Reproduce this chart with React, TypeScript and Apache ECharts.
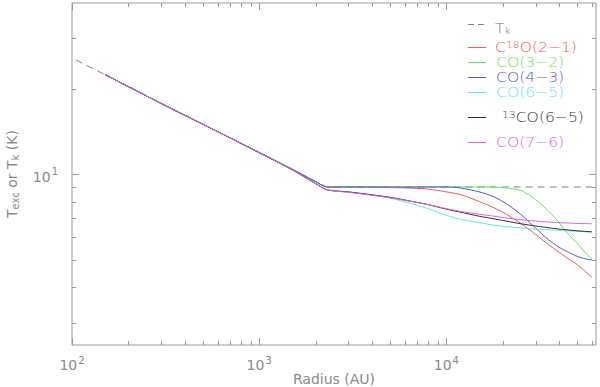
import React, { useEffect, useRef } from 'react';
import * as echarts from 'echarts';

// Radii (AU) shared by the model curves
const RADII = [150, 300, 600, 1000, 1500, 2000, 2300, 3000, 4000, 5000, 6000, 8000, 10000, 12000, 15000, 18000, 21000, 25000, 30000, 35000, 40000, 45000, 50000, 55000, 60000];

// Kinetic temperature (dashed)
const TK_RADII = [105, 2300, 60000];
const TK_VALUES = [25.2, 9.0, 9.0];

// Excitation temperatures (K)
const C18O_21 = [22.4, 17.7, 14.1, 11.9, 10.4, 9.4, 9.0, 9.0, 8.98, 8.96, 8.93, 8.85, 8.65, 8.45, 8.0, 7.6, 7.2, 6.7, 6.12, 5.65, 5.3, 5.02, 4.8, 4.55, 4.33];
const CO_32 = [22.4, 17.7, 14.1, 11.9, 10.4, 9.4, 9.0, 9.0, 9.0, 9.0, 9.0, 9.0, 9.0, 9.0, 9.0, 8.98, 8.93, 8.75, 8.12, 7.42, 6.75, 6.12, 5.7, 5.3, 5.02];
const CO_43 = [22.4, 17.7, 14.1, 11.9, 10.4, 9.4, 9.0, 9.0, 9.0, 9.0, 9.0, 9.0, 9.0, 8.92, 8.65, 8.3, 7.85, 7.2, 6.45, 5.88, 5.52, 5.3, 5.13, 5.03, 4.98];
const CO_65 = [22.4, 17.7, 14.1, 11.9, 10.35, 9.25, 8.8, 8.63, 8.42, 8.22, 7.98, 7.55, 7.15, 6.92, 6.74, 6.6, 6.52, 6.46, 6.4, 6.36, 6.33, 6.3, 6.28, 6.26, 6.24];
const CO13_65 = [22.4, 17.7, 14.1, 11.9, 10.35, 9.25, 8.8, 8.65, 8.45, 8.28, 8.1, 7.8, 7.52, 7.33, 7.1, 6.95, 6.82, 6.68, 6.56, 6.47, 6.4, 6.35, 6.31, 6.28, 6.26];
const CO_76 = [22.4, 17.7, 14.1, 11.9, 10.35, 9.25, 8.8, 8.62, 8.42, 8.25, 8.08, 7.8, 7.55, 7.38, 7.22, 7.1, 7.0, 6.9, 6.83, 6.78, 6.74, 6.72, 6.7, 6.69, 6.68];

// Tick values
const X_TICKS = [100, 200, 300, 400, 500, 600, 700, 800, 900, 1000, 2000, 3000, 4000, 5000, 6000, 7000, 8000, 9000, 10000, 20000, 30000, 40000, 50000, 60000];
const Y_TICKS = [3, 4, 5, 6, 7, 8, 9, 10, 20, 30];

const X_MIN = 100;
const X_MAX = 63000;
const Y_MIN = 2.5;
const Y_MAX = 40;

const LEGEND_LABELS = ['T{sub|k}', 'C{sup|18}O(2\u22121)', 'CO(3\u22122)', 'CO(4\u22123)', 'CO(6\u22125)', '{sup|13}CO(6\u22125)', 'CO(7\u22126)'];

const FRAME = '#9a9a9a';
const TEXT = '#8a8a8a';
const COLORS = {
  tk: '#808080',
  red: '#e85a5a',
  green: '#5fe25f',
  blue: '#5656d2',
  cyan: '#5ee6e6',
  black: '#2e2e2e',
  magenta: '#e25ee2',
};

const FONT = 'DejaVu Sans';

function isPow10(v: number) {
  const l = Math.log10(v);
  return Math.abs(l - Math.round(l)) < 1e-6;
}

function pairs(xs: number[], ys: number[]) {
  return xs.map((x, i) => [x, ys[i]]);
}

export default function App() {
  const ref = useRef<HTMLDivElement>(null);

  useEffect(() => {
    if (!ref.current) return;
    const chart = echarts.init(ref.current, undefined, { renderer: 'svg' });

    const lineSeries = (name: string, data: number[][], color: string, dashed = false) => ({
      type: 'line',
      name,
      data,
      showSymbol: false,
      symbol: 'none',
      smooth: dashed ? false : 0.25,
      lineStyle: { color, width: 1, type: dashed ? [7, 5] : 'solid' },
      clip: true,
      silent: true,
      z: 3,
    });

    const tickLine = (x1: number, y1: number, x2: number, y2: number) => ({
      type: 'line',
      shape: { x1, y1, x2, y2 },
      style: { stroke: FRAME, lineWidth: 1 },
    });

    const legendColors = [COLORS.tk, COLORS.red, COLORS.green, COLORS.blue, COLORS.cyan, COLORS.black, COLORS.magenta];
    const legendTextColors = ['#777', COLORS.red, COLORS.green, COLORS.blue, COLORS.cyan, '#333', COLORS.magenta];
    const legendY = [24, 47, 62, 77, 92, 117, 142];
    const legendTextY = [28, 47, 62, 77, 92, 117, 142];
    const legendTextX = [495, 495, 496, 496, 496, 502, 496];

    const legendChildren: any[] = [];
    LEGEND_LABELS.forEach((lab, i) => {
      legendChildren.push({
        type: 'line',
        shape: { x1: 468, y1: legendY[i] + 0.5, x2: 486, y2: legendY[i] + 0.5 },
        style: { stroke: legendColors[i], lineWidth: 1, lineDash: i === 0 ? [6, 4] : null },
      });
      legendChildren.push({
        type: 'text',
        x: legendTextX[i],
        y: legendTextY[i],
        scaleX: 1.2,
        scaleY: 1.05,
        style: {
          text: lab,
          fill: legendTextColors[i],
          fontFamily: FONT,
          fontSize: 13,
          fontWeight: 200,
          verticalAlign: 'middle',
          align: 'left',
          rich: {
            sub: { fontSize: 9, fontFamily: FONT, fontWeight: 200, fill: legendTextColors[i], padding: [6, 0, 0, 0] },
            sup: { fontSize: 9, fontFamily: FONT, fontWeight: 200, fill: legendTextColors[i], padding: [0, 0, 5, 0] },
          },
        },
      });
    });

    chart.setOption({
      animation: false,
      grid: {
        left: 72,
        right: 4,
        top: 3,
        bottom: 42,
        show: true,
        borderColor: FRAME,
        borderWidth: 1,
        containLabel: false,
        outerBoundsMode: 'none',
      },
      xAxis: {
        type: 'log',
        logBase: 10,
        min: X_MIN,
        max: X_MAX,
        name: 'Radius (AU)',
        nameLocation: 'middle',
        nameGap: 27,
        nameMoveOverlap: false,
        nameTextStyle: { color: TEXT, fontFamily: FONT, fontSize: 14 },
        axisLine: { show: false },
        axisTick: { show: false },
        splitLine: { show: false },
        minorTick: { show: false },
        axisLabel: {
          margin: 8,
          color: TEXT,
          fontFamily: FONT,
          showMinLabel: true,
          showMaxLabel: false,
          formatter: (v: number) => (isPow10(v) ? `{b|10}{s|${Math.round(Math.log10(v))}}` : ''),
          rich: {
            b: { fontSize: 14, fontFamily: FONT, color: TEXT, padding: [5, 0, 0, 0] },
            s: { fontSize: 10, fontFamily: FONT, color: TEXT, padding: [0, 0, 5, 1] },
          },
        },
      },
      yAxis: {
        type: 'log',
        logBase: 10,
        min: Y_MIN,
        max: Y_MAX,
        name: 'T{sub|exc} or T{sub|k} (K)',
        nameLocation: 'middle',
        nameRotate: 90,
        nameGap: 52,
        nameMoveOverlap: false,
        nameTextStyle: {
          color: TEXT,
          fontFamily: FONT,
          fontSize: 14,
          rich: {
            sub: { fontSize: 10, fontFamily: FONT, color: TEXT, padding: [7, 0, 0, 0] },
          },
        },
        axisLine: { show: false },
        axisTick: { show: false },
        splitLine: { show: false },
        minorTick: { show: false },
        axisLabel: {
          margin: 14,
          color: TEXT,
          fontFamily: FONT,
          showMinLabel: false,
          showMaxLabel: false,
          formatter: (v: number) => (isPow10(v) ? `{b|10}{s|${Math.round(Math.log10(v))}}` : ''),
          rich: {
            b: { fontSize: 14, fontFamily: FONT, color: TEXT, padding: [5, 0, 0, 0] },
            s: { fontSize: 10, fontFamily: FONT, color: TEXT, padding: [0, 0, 5, 1] },
          },
        },
      },
      series: [
        {
          type: 'custom',
          name: 'xticks',
          data: X_TICKS.map((v) => [v, Y_MIN]),
          clip: false,
          silent: true,
          z: 1,
          renderItem: (_p: any, api: any) => {
            const v = api.value(0);
            const b = api.coord([v, Y_MIN]);
            const t = api.coord([v, Y_MAX]);
            const len = isPow10(v) ? 7 : 4;
            const x = Math.round(b[0]) + 0.5;
            return {
              type: 'group',
              children: [tickLine(x, b[1], x, b[1] - len), tickLine(x, t[1], x, t[1] + len)],
            };
          },
        },
        {
          type: 'custom',
          name: 'yticks',
          data: Y_TICKS.map((v) => [X_MIN, v]),
          clip: false,
          silent: true,
          z: 1,
          renderItem: (_p: any, api: any) => {
            const v = api.value(1);
            const l = api.coord([X_MIN, v]);
            const r = api.coord([X_MAX, v]);
            const len = isPow10(v) ? 7 : 4;
            const y = Math.round(l[1]) + 0.5;
            return {
              type: 'group',
              children: [tickLine(l[0], y, l[0] + len, y), tickLine(r[0], y, r[0] - len, y)],
            };
          },
        },
        lineSeries('T_k', pairs(TK_RADII, TK_VALUES), COLORS.tk, true),
        lineSeries('C18O(2-1)', pairs(RADII, C18O_21), COLORS.red),
        lineSeries('CO(3-2)', pairs(RADII, CO_32), COLORS.green),
        lineSeries('CO(4-3)', pairs(RADII, CO_43), COLORS.blue),
        lineSeries('CO(6-5)', pairs(RADII, CO_65), COLORS.cyan),
        lineSeries('13CO(6-5)', pairs(RADII, CO13_65), COLORS.black),
        lineSeries('CO(7-6)', pairs(RADII, CO_76), COLORS.magenta),
      ],
      graphic: [{ type: 'group', children: legendChildren }],
    });

    return () => chart.dispose();
  }, []);

  return <div ref={ref} style={{ width: 600, height: 387, position: 'absolute', left: 0, top: 0, background: '#fff' }} />;
}
